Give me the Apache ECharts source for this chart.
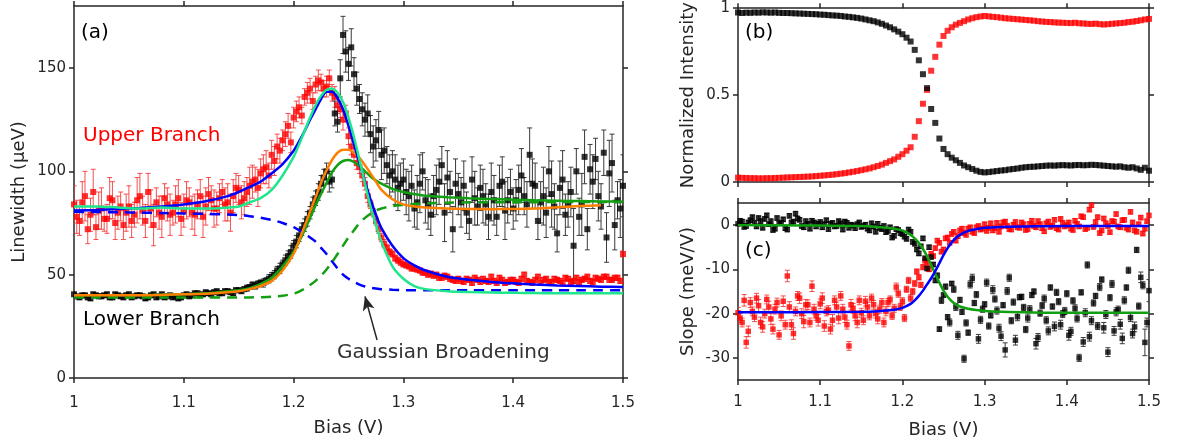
<!DOCTYPE html>
<html>
<head>
<meta charset="utf-8">
<script src="https://cdn.jsdelivr.net/npm/echarts@6/dist/echarts.min.js"></script>
<style>
html,body{margin:0;padding:0;background:#fff;}
#chart{width:1183px;height:444px;}
</style>
</head>
<body>
<div id="chart"></div>
<script>
// ---------- sampling grids (Bias, V) ----------
const bias = [
1.000,1.005,1.010,1.015,1.020,1.025,1.030,1.035,1.040,1.045,
1.050,1.055,1.060,1.065,1.070,1.075,1.080,1.085,1.090,1.095,
1.100,1.105,1.110,1.115,1.120,1.125,1.130,1.135,1.140,1.145,
1.150,1.155,1.160,1.165,1.170,1.175,1.180,1.185,1.190,1.195,
1.200,1.205,1.210,1.215,1.220,1.225,1.230,1.235,1.240,1.245,
1.250,1.255,1.260,1.265,1.270,1.275,1.280,1.285,1.290,1.295,
1.300,1.305,1.310,1.315,1.320,1.325,1.330,1.335,1.340,1.345,
1.350,1.355,1.360,1.365,1.370,1.375,1.380,1.385,1.390,1.395,
1.400,1.405,1.410,1.415,1.420,1.425,1.430,1.435,1.440,1.445,
1.450,1.455,1.460,1.465,1.470,1.475,1.480,1.485,1.490,1.495,
1.500];
const bias2 = [
1.0025,1.0075,1.0125,1.0175,1.0225,1.0275,1.0325,1.0375,1.0425,1.0475,
1.0525,1.0575,1.0625,1.0675,1.0725,1.0775,1.0825,1.0875,1.0925,1.0975,
1.1025,1.1075,1.1125,1.1175,1.1225,1.1275,1.1325,1.1375,1.1425,1.1475,
1.1525,1.1575,1.1625,1.1675,1.1725,1.1775,1.1825,1.1875,1.1925,1.1975,
1.2025,1.2075,1.2125,1.2175,1.2225,1.2275,1.2325,1.2375,1.2425,1.2475,
1.2525,1.2575,1.2625,1.2675,1.2725,1.2775,1.2825,1.2875,1.2925,1.2975,
1.3025,1.3075,1.3125,1.3175,1.3225,1.3275,1.3325,1.3375,1.3425,1.3475,
1.3525,1.3575,1.3625,1.3675,1.3725,1.3775,1.3825,1.3875,1.3925,1.3975,
1.4025,1.4075,1.4125,1.4175,1.4225,1.4275,1.4325,1.4375,1.4425,1.4475,
1.4525,1.4575,1.4625,1.4675,1.4725,1.4775,1.4825,1.4875,1.4925,1.4975];

// ---------- panel (a): linewidth (ueV) ----------
const upperWidth = [
84,76,88,79,73,82,77,86,80,74,
83,79,88,76,82,85,78,84,80,87,
81,85,79,88,83,86,82,90,85,88,
91,87,93,96,99,102,108,112,115,122,
126,131,136,140,142,143,141,138,132,125,
117,108,102,94,84,76,68,63,60,57,
55,54,53,52,51,50.5,50,48.5,49,47.5,
48,46.5,47.5,48.5,46.5,47,49,46,47.5,46.5,
47.5,46,50,46.5,47.5,46,48,46.5,47.5,46,
48,47,46.5,48,47,48.5,47.5,49,47.5,48.5,
60];
const upperWidthErr = [
9,7,12,8,6,10,7,9,8,7,
10,6,11,8,9,7,10,8,6,9,
8,7,10,8,9,7,8,6,9,8,
7,8,9,6,7,8,7,6,5,6,
5,5,4,5,4,4,5,4,4,5,
4,3,3,3,2,2,2,1.5,1.5,1.5,
1.2,1.2,1.2,1.2,1.2,1.2,1.2,1.2,1.2,1.2,
1.2,1.2,1.2,1.2,1.2,1.2,1.2,1.2,1.2,1.2,
1.2,1.2,1.2,1.2,1.2,1.2,1.2,1.2,1.2,1.2,
1.2,1.2,1.2,1.2,1.2,1.2,1.2,1.2,1.2,1.2,
1.5];
const upperWidth2 = [
78,85,72,90,81,77,87,75,83,80,
76,86,81,90,74,80,87,79,84,77,
86,80,84,78,89,82,87,84,80,92,
85,90,95,92,101,98,105,110,118,114,
129,127,138,134,144,140,145,136,130,128,
112,104,98,88,80,72,65,61,58,56,
54.5,53,52.5,51,50,49.5,48.5,49.5,48,47,
47,48,46,47.5,48,46.5,47,48.5,46,47.5,
46.5,48,47,46,49,47.5,46.5,48,47,48.5,
46.5,48.5,47.5,49,46.5,48,49,47.5,48.5,47];
const upperWidthErr2 = [
8,10,7,11,9,6,10,8,7,9,
8,11,7,9,10,8,7,10,9,8,
9,8,7,10,8,9,7,8,9,7,
8,7,8,9,7,6,7,6,6,5,
5,4,5,4,5,4,4,5,4,4,
4,3,3,3,2,2,2,1.5,1.5,1.5,
1.2,1.2,1.2,1.2,1.2,1.2,1.2,1.2,1.2,1.2,
1.2,1.2,1.2,1.2,1.2,1.2,1.2,1.2,1.2,1.2,
1.2,1.2,1.2,1.2,1.2,1.2,1.2,1.2,1.2,1.2,
1.2,1.2,1.2,1.2,1.2,1.2,1.2,1.2,1.2,1.2];
const lowerWidth = [
40.5,39,40,38.5,40,39.5,40.5,39,40,39,
40.5,39.5,40,38.5,40,39,40.5,39.5,39,38.5,
40,39.5,41,40,41.5,40.5,42,41,42,41,
42.5,43,44,44.5,46,47,49,52,55,59,
64,69,74,80,87,94,100,96,124,166,
152,147,135,125,118,115,108,103,100,92,
96,88,82,94,86,79,91,103,97,72,
89,93,76,87,92,84,90,78,95,86,
82,91,88,108,93,85,80,89,70,96,
84,64,78,107,101,106,83,68,104,86,
93];
const lowerWidthErr = [
1,1,1,1,1,1,1,1,1,1,
1,1,1,1,1,1,1,1,1,1,
1,1,1,1,1,1,1,1,1,1,
1,1,1,1.5,1.5,1.5,2,2,2,2.5,
2.5,3,3,3,3.5,4,4,4,5,9,
8,8,7,8,9,10,12,9,10,11,
10,12,9,14,11,10,12,9,13,11,
10,12,9,13,11,10,14,9,12,11,
10,12,9,13,11,10,12,16,9,14,
11,18,9,13,12,10,11,12,14,9,
15];
const lowerWidth2 = [
39.5,40,39,40.5,39.5,40,39,40.5,39.5,40,
39,40,39.5,39,40.5,39.5,39,40,39.5,39,
40.5,40,41,40.5,41,41.5,41,42,41.5,42.5,
42,43.5,45,45.5,46,48,50,53,57,61,
66,72,77,84,90,97,95,128,145,158,
160,140,130,128,112,120,110,98,96,94,
90,93,85,100,84,88,95,80,90,94,
85,80,96,83,88,78,86,93,81,90,
86,98,84,94,76,88,100,83,92,79,
90,100,84,72,95,88,109,99,74,82];
const lowerWidthErr2 = [
1,1,1,1,1,1,1,1,1,1,
1,1,1,1,1,1,1,1,1,1,
1,1,1,1,1,1,1,1,1,1,
1,1.5,1.5,1.5,2,2,2,2.5,2.5,3,
3,3,3.5,3.5,4,4,5,6,9,10,
9,8,8,9,10,9,11,10,12,10,
11,10,13,9,12,10,11,14,10,12,
12,10,11,9,13,11,12,10,14,11,
10,13,11,12,9,14,12,11,13,10,
12,11,15,10,13,12,11,16,12,14];

// fit curves of panel (a)
const fitBiasA = [1.00,1.02,1.04,1.06,1.08,1.10,1.12,1.14,
1.15,1.16,1.17,1.18,1.19,1.20,
1.205,1.21,1.215,1.22,1.225,1.23,1.235,1.24,1.245,1.25,1.255,1.26,1.265,1.27,1.275,1.28,
1.29,1.30,1.31,1.32,
1.34,1.36,1.38,1.40,1.42,1.44,1.46,1.48,1.50];
const upperFitBlue = [81,81.3,81.8,82.3,83,84,85.5,88,
90,92.5,95,99,103.5,110,
114.5,119.5,125,130,135,138.5,138.5,135.5,130,122,113,104,95,86.5,79,72.5,
64,58,54.5,52,
49,47.5,46.5,45.8,45.2,44.8,44.5,44.2,44];
const upperFitCyan = [83,83,82.5,82,82.5,82,82,82.5,
83,85,87,91,98,107,
113,119.5,126,132,136.5,139.5,140,138,133.5,126,116.5,105.5,94,83,74,66,
54,48,44.5,43,
42,41.6,41.4,41.2,41.1,41,41,41,41];
const lowerFitOrange = [40,40,40,40,40.2,40.5,40.8,41.5,
42,43,44.5,47,52,60,
66.5,73.5,80.5,87.5,94.5,100.5,105.5,109,110.5,110.5,109,106.5,103,99,95,91,
86.5,84,83,82.5,
82,81.8,81.7,81.8,82,82.6,83.2,83.6,null];
const lowerFitGreen = [40,40,40,40.1,40.3,40.5,41,42,
42.5,43.5,45.5,48.5,54,61,
66,71.5,77.5,83.5,89,94.5,99.5,103,105,105.5,104.5,102.5,100,97.5,95.5,94,
91.5,90,89,88.2,
87.5,87,86.6,86.3,86,85.8,85.6,85.4,85.3];
const upperLorentzDash = [80.4,80.3,80.2,80,79.8,79.6,79.4,79.1,
78.8,78.3,77.6,76.5,75,73,
71.5,70,68,66,63,60,56.5,53,50,48,46.5,45.2,44.3,43.7,43.3,43,
42.7,42.5,42.5,42.5,
42.5,42.5,42.5,42.5,42.5,42.5,42.5,42.5,42.5];
const gaussianDash = [39,39,39,39,39,39,39,39,
39,39,39.1,39.3,39.8,40.8,
41.8,43.2,45,47,49.5,52.5,56,60,64,68,71.5,75,77.5,79.5,81,82,
83.2,83.8,84.2,84.5,
84.8,85,85,85.1,85.1,85.2,85.2,85.2,85.2];

// ---------- panel (b): normalized intensity ----------
const upperIntensity = [
.025,.024,.023,.022,.022,.021,.021,.022,.022,.023,
.024,.025,.026,.027,.028,.029,.030,.031,.032,.034,
.036,.038,.040,.042,.045,.048,.051,.055,.059,.063,
.068,.073,.078,.085,.092,.100,.110,.120,.130,.145,
.160,.180,.200,.260,.350,.450,.530,.640,.720,.790,
.840,.870,.890,.905,.915,.925,.935,.942,.948,.952,
.955,.953,.950,.948,.945,.942,.940,.938,.936,.934,
.932,.930,.928,.925,.923,.921,.920,.918,.917,.916,
.915,.914,.916,.913,.912,.910,.909,.911,.908,.906,
.908,.910,.912,.914,.916,.920,.922,.926,.930,.935,
.938];
const lowerIntensity = [
.975,.972,.974,.973,.975,.974,.976,.975,.974,.975,
.973,.972,.972,.971,.970,.969,.968,.967,.966,.965,
.963,.962,.960,.958,.957,.955,.952,.950,.947,.944,
.940,.935,.930,.925,.918,.910,.900,.890,.878,.865,
.850,.830,.808,.760,.700,.620,.540,.420,.340,.250,
.190,.160,.140,.125,.110,.095,.085,.075,.065,.058,
.055,.057,.060,.063,.066,.068,.072,.075,.078,.082,
.085,.087,.088,.090,.092,.094,.095,.094,.096,.097,
.096,.095,.097,.098,.096,.097,.099,.098,.096,.094,
.092,.090,.088,.090,.085,.082,.085,.078,.070,.082,
.065];

// ---------- panel (c): slope (meV/V) ----------
const upperSlope = [
-19.8,-22.0,-26.5,-17.5,-20.8,-18.2,-23.0,-16.8,-21.2,-19.0,
-24.8,-17.2,-11.5,-22.5,-19.5,-16.5,-21.8,-18.0,-13.8,-20.5,
-17.8,-22.8,-19.2,-21.5,-18.5,-16.0,-20.8,-27.3,-18.8,-22.0,
-19.8,-17.2,-20.5,-18.0,-21.2,-17.5,-19.5,-16.8,-18.8,-15.5,
-17.2,-14.5,-16.5,-13.2,-11.8,-9.5,-8.8,-6.5,-5.2,-4.0,
-5.5,-2.8,-2.0,-3.5,-1.2,-1.8,-0.8,-1.5,-0.5,-1.0,
0.2,-0.6,-1.2,0.5,-0.3,0.8,-0.9,0.1,-0.5,0.6,
-1.1,0.3,-0.2,0.9,-0.7,0.4,-0.4,1.2,-1.0,0.5,
0.0,-0.8,1.0,-0.3,1.8,-0.6,4.5,0.7,-1.8,1.5,
-0.2,0.9,2.5,-0.5,1.2,-1.0,0.6,-1.5,1.7,-0.8,
2.2];
const upperSlopeErr = [
1.2,1.0,1.3,1.1,1.0,1.4,1.2,1.0,1.3,1.1,
1.0,1.2,1.3,1.1,1.0,1.2,1.4,1.1,1.2,1.0,
1.1,1.2,1.0,1.3,1.1,1.0,1.2,1.0,1.1,1.2,
1.0,1.1,0.9,1.0,1.1,0.9,1.0,0.8,0.9,0.8,
0.8,0.7,0.8,0.7,0.6,0.6,0.6,0.5,0.5,0.5,
0.5,0.5,0.5,0.5,0.5,0.5,0.5,0.5,0.5,0.5,
0.5,0.5,0.5,0.5,0.5,0.5,0.5,0.5,0.5,0.5,
0.5,0.5,0.5,0.5,0.5,0.5,0.5,0.5,0.5,0.5,
0.5,0.5,0.5,0.5,0.5,0.5,0.5,0.5,0.5,0.5,
0.5,0.5,0.5,0.5,0.5,0.5,0.5,0.5,0.5,0.5,
0.5];
const upperSlope2 = [
-21.0,-17.0,-24.0,-19.5,-16.5,-22.0,-20.0,-18.5,-23.5,-17.5,
-20.5,-22.5,-18.5,-24.5,-16.0,-20.0,-18.0,-22.0,-19.0,-21.5,
-16.5,-19.5,-23.5,-17.0,-21.0,-19.0,-22.5,-18.0,-20.5,-17.0,
-21.5,-18.5,-16.5,-20.0,-19.0,-22.0,-17.5,-20.5,-14.0,-18.5,
-21.0,-12.5,-15.0,-10.5,-13.5,-8.0,-10.0,-7.0,-3.5,-6.0,
-3.0,-4.0,-1.5,-2.5,-0.8,-2.2,-0.5,-1.8,-0.2,-0.8,
-1.3,0.4,-0.7,-1.5,0.6,-0.2,-1.0,0.7,-0.6,0.2,
-0.9,1.0,-0.5,0.2,-1.4,0.8,-0.1,-0.7,1.4,-0.3,
0.6,-1.1,0.3,2.0,-0.9,3.5,-0.4,1.8,-1.2,0.4,
-1.6,0.8,-0.3,1.1,-0.6,3.0,-1.2,0.2,-1.9,0.9];
const upperSlopeErr2 = [
1.0,1.3,1.2,1.0,1.1,1.2,1.0,1.3,1.1,1.0,
1.1,1.0,1.2,1.3,1.0,1.1,1.2,1.0,1.1,1.3,
1.2,1.0,1.1,1.0,1.3,1.1,1.0,1.2,1.1,1.0,
1.0,1.1,0.9,1.0,0.9,1.0,0.9,0.8,0.9,0.8,
0.8,0.7,0.7,0.6,0.6,0.6,0.5,0.5,0.5,0.5,
0.5,0.5,0.5,0.5,0.5,0.5,0.5,0.5,0.5,0.5,
0.5,0.5,0.5,0.5,0.5,0.5,0.5,0.5,0.5,0.5,
0.5,0.5,0.5,0.5,0.5,0.5,0.5,0.5,0.5,0.5,
0.5,0.5,0.5,0.5,0.5,0.5,0.5,0.5,0.5,0.5,
0.5,0.5,0.5,0.5,0.5,0.5,0.5,0.5,0.5,0.5];
const lowerSlope = [
0.3,0.8,-0.2,1.1,0.5,1.6,-0.6,2.2,0.9,-0.8,
0.4,1.3,-1.0,0.6,2.6,1.2,-0.5,0.3,1.0,-0.3,
0.7,0.2,-0.9,0.5,-0.2,0.4,0.8,-0.6,-0.1,0.2,
-0.4,0.1,-1.2,-0.3,0.3,-0.9,-1.6,-0.5,-2.4,-1.1,
-2.0,-3.1,-1.5,-4.2,-6.4,-3.0,-9.8,-7.2,-12.5,-23.5,
-15.8,-20.8,-13.2,-18.5,-16.9,-30.2,-24.3,-12.0,-15.7,-21.4,
-17.9,-22.8,-14.6,-19.3,-25.1,-28.2,-11.9,-17.4,-20.7,-16.2,
-23.6,-19.0,-15.0,-25.4,-18.2,-21.5,-14.1,-22.9,-17.3,-20.1,
-15.5,-24.0,-18.8,-30.0,-26.4,-9.0,-21.6,-16.0,-14.0,-23.2,
-28.7,-13.3,-19.6,-22.4,-17.0,-10.2,-24.5,-5.6,-11.8,-26.5,
-14.8];
const lowerSlopeErr = [
0.5,0.5,0.5,0.5,0.5,0.5,0.5,0.5,0.5,0.5,
0.5,0.5,0.5,0.5,0.5,0.5,0.5,0.5,0.5,0.5,
0.5,0.5,0.5,0.5,0.5,0.5,0.5,0.5,0.5,0.5,
0.5,0.5,0.5,0.5,0.5,0.5,0.5,0.5,0.5,0.5,
0.5,0.5,0.5,0.5,0.5,0.5,0.5,0.5,0.5,0.5,
0.5,0.6,0.5,0.8,0.6,0.8,0.6,0.9,0.7,0.8,
0.6,0.7,0.9,0.8,1.0,1.6,0.8,0.7,0.9,0.6,
0.7,0.8,0.6,0.9,0.7,0.8,0.6,1.0,0.7,0.8,
0.7,0.9,0.8,0.8,1.0,0.7,0.9,0.6,0.8,1.2,
1.0,0.8,0.9,1.1,0.8,0.7,1.0,0.6,1.2,3.0,
2.5];
const lowerSlope2 = [
1.0,-0.4,0.6,1.8,-0.3,0.9,1.4,0.2,-1.1,1.6,
0.5,-0.7,2.1,0.8,1.5,-0.2,0.9,-0.8,0.6,0.3,
-0.5,1.1,0.3,-0.3,0.9,-1.0,0.5,0.1,-0.7,0.6,
-0.2,-0.8,0.4,-1.5,-0.6,-0.2,-1.3,-2.8,-0.9,-1.8,
-2.6,-1.0,-3.8,-5.5,-4.8,-7.5,-5.0,-8.9,-11.4,-17.0,
-13.9,-22.0,-14.5,-24.9,-19.6,-22.1,-13.4,-17.6,-25.7,-19.0,
-13.0,-20.4,-16.7,-23.3,-18.1,-14.9,-21.6,-26.0,-16.3,-18.6,
-21.0,-15.8,-26.8,-19.9,-16.6,-23.9,-18.4,-15.2,-22.5,-19.4,
-24.9,-17.1,-21.1,-15.2,-19.8,-25.2,-17.6,-22.8,-12.3,-20.2,
-16.4,-23.9,-19.1,-25.6,-14.1,-20.9,-23.0,-18.3,-13.6,-22.0];
const lowerSlopeErr2 = [
0.5,0.5,0.5,0.5,0.5,0.5,0.5,0.5,0.5,0.5,
0.5,0.5,0.5,0.5,0.5,0.5,0.5,0.5,0.5,0.5,
0.5,0.5,0.5,0.5,0.5,0.5,0.5,0.5,0.5,0.5,
0.5,0.5,0.5,0.5,0.5,0.5,0.5,0.5,0.5,0.5,
0.5,0.5,0.5,0.5,0.5,0.5,0.5,0.5,0.6,0.7,
0.6,0.8,0.7,0.9,0.6,0.7,0.8,0.6,1.0,0.7,
0.8,0.6,0.7,0.9,0.6,0.8,0.7,1.1,0.6,0.7,
0.9,0.6,1.2,0.7,0.8,0.9,0.6,0.7,1.0,0.8,
1.1,0.7,0.8,0.6,0.9,1.0,0.7,0.8,0.6,0.9,
0.7,1.0,0.8,1.2,0.6,0.9,1.1,0.7,0.8,1.0];
const fitBiasC = [1.00,1.05,1.10,1.15,1.17,1.19,1.20,1.21,1.215,1.22,1.225,1.23,1.235,1.24,
1.245,1.25,1.255,1.26,1.265,1.27,1.28,1.29,1.30,1.32,1.35,1.40,1.45,1.50];
const lowerSlopeFit = [0,-0.05,-0.1,-0.2,-0.4,-0.8,-1.2,-2.2,-3.0,-4.0,-5.4,-7.0,-9.0,-11.0,
-13.0,-14.8,-16.2,-17.2,-17.9,-18.4,-18.9,-19.2,-19.4,-19.6,-19.7,-19.8,-19.8,-19.8];
const upperSlopeFit = [-19.7,-19.7,-19.65,-19.6,-19.45,-19.1,-18.7,-17.8,-17.0,-16.0,-14.8,-13.4,-12.0,-10.4,
-8.6,-6.8,-5.2,-3.9,-2.9,-2.2,-1.3,-0.9,-0.6,-0.4,-0.3,-0.2,-0.2,-0.2];

// tick labels
const biasTicks = [1, 1.1, 1.2, 1.3, 1.4, 1.5];
const widthTicks = [0, 50, 100, 150];
const intensityTicks = [0, 0.5, 1];
const slopeTicks = [-30, -20, -10, 0];

// annotation arrow (data coordinates of panel a)
const arrowFrom = [1.276, 18.4];
const arrowTo = [1.265, 39.5];

// ---------- build ----------
const AX = '#262626';
const FONT = 'DejaVu Sans';
const zip = (xs, ys) => xs.map((x, i) => [x, ys[i]]).filter(p => p[1] !== null);
const zipErr = (xs, ys, es) => xs.map((x, i) => [x, ys[i] - es[i], ys[i] + es[i]]);

function xAx(gi, pos, showLabel, name, gap, margin) {
  return {
    type: 'value', gridIndex: gi, position: pos, min: 1, max: 1.5, interval: 0.1,
    axisLine: {show: true, onZero: false, lineStyle: {color: AX, width: 1.5}},
    axisTick: {show: true, length: 5, lineStyle: {color: AX, width: 1.5}, customValues: biasTicks},
    axisLabel: {show: showLabel, margin: margin || 14, color: AX, fontFamily: FONT, fontSize: 15,
      customValues: biasTicks, formatter: v => String(+v.toFixed(1))},
    splitLine: {show: false},
    name: name || '', nameLocation: 'middle', nameGap: gap || 0,
    nameTextStyle: {color: AX, fontFamily: FONT, fontSize: 18}
  };
}
function yAx(gi, pos, min, max, ticks, showLabel, name, gap) {
  return {
    type: 'value', gridIndex: gi, position: pos, min: min, max: max,
    axisLine: {show: true, onZero: false, lineStyle: {color: AX, width: 1.5}},
    axisTick: {show: true, length: 5, lineStyle: {color: AX, width: 1.5}, customValues: ticks},
    axisLabel: {show: showLabel, margin: 8, color: AX, fontFamily: FONT, fontSize: 15, customValues: ticks,
      formatter: v => String(+v.toFixed(1))},
    splitLine: {show: false},
    name: name || '', nameLocation: 'middle', nameGap: gap || 0,
    nameTextStyle: {color: AX, fontFamily: FONT, fontSize: 18}
  };
}
function errSeries(xi, yi, data, color, cap) {
  return {
    type: 'custom', xAxisIndex: xi, yAxisIndex: yi, data: data, clip: true, silent: true,
    encode: {x: 0, y: [1, 2]},
    renderItem: function (params, api) {
      const x = api.value(0);
      const lo = api.coord([x, api.value(1)]);
      const hi = api.coord([x, api.value(2)]);
      const st = {stroke: color, lineWidth: 1};
      return {type: 'group', children: [
        {type: 'line', shape: {x1: lo[0], y1: lo[1], x2: hi[0], y2: hi[1]}, style: st},
        {type: 'line', shape: {x1: lo[0] - cap, y1: lo[1], x2: lo[0] + cap, y2: lo[1]}, style: st},
        {type: 'line', shape: {x1: hi[0] - cap, y1: hi[1], x2: hi[0] + cap, y2: hi[1]}, style: st}
      ]};
    }
  };
}
function scat(xi, yi, xs, ys, color, size) {
  return {type: 'scatter', xAxisIndex: xi, yAxisIndex: yi, data: zip(xs, ys), symbol: 'rect',
    symbolSize: size || 6, itemStyle: {color: color}, silent: true};
}
function fitLine(xi, yi, xs, ys, color, dash, z) {
  return {type: 'line', xAxisIndex: xi, yAxisIndex: yi, data: zip(xs, ys), showSymbol: false, smooth: 0.3,
    lineStyle: {color: color, width: 2.5, type: dash ? [10, 7] : 'solid'}, z: z || 5, silent: true};
}

const RED = '#ff0000', RED_ERR = 'rgba(245,50,50,0.85)', BLK = '#000000', BLK_ERR = '#3a3a3a';
const BLUE = '#0000ff', CYAN = '#1ee68c', ORANGE = '#ff8000', GREEN = '#12a012';

const greenDash = fitLine(0, 0, fitBiasA, gaussianDash, GREEN, true, 5);
greenDash.markLine = {
  silent: true, symbol: ['none', 'arrow'], symbolSize: [9, 14],
  lineStyle: {color: AX, width: 1.5, type: 'solid'}, label: {show: false},
  data: [[{coord: arrowFrom}, {coord: arrowTo}]]
};

const option = {
  animation: false,
  backgroundColor: '#ffffff',
  grid: [
    {left: 74, top: 6, width: 549, height: 372},
    {left: 738, top: 4, width: 411, height: 178},
    {left: 738, top: 203, width: 411, height: 177}
  ],
  xAxis: [
    xAx(0, 'bottom', true, 'Bias (V)', 41, 18), xAx(0, 'top', false),
    xAx(1, 'bottom', false), xAx(1, 'top', false),
    xAx(2, 'bottom', true, 'Bias (V)', 41, 15), xAx(2, 'top', false)
  ],
  yAxis: [
    yAx(0, 'left', 0, 180, widthTicks, true, 'Linewidth (μeV)', 46), yAx(0, 'right', 0, 180, widthTicks, false),
    yAx(1, 'left', 0, 1, intensityTicks, true, 'Normalized Intensity', 41), yAx(1, 'right', 0, 1, intensityTicks, false),
    yAx(2, 'left', -35, 5, slopeTicks, true, 'Slope (meV/V)', 41), yAx(2, 'right', -35, 5, slopeTicks, false)
  ],
  series: [
    // (a)
    errSeries(0, 0, zipErr(bias, upperWidth, upperWidthErr), RED_ERR, 2.5),
    errSeries(0, 0, zipErr(bias2, upperWidth2, upperWidthErr2), RED_ERR, 2.5),
    scat(0, 0, bias, upperWidth, RED),
    scat(0, 0, bias2, upperWidth2, RED),
    errSeries(0, 0, zipErr(bias, lowerWidth, lowerWidthErr), BLK_ERR, 2.5),
    errSeries(0, 0, zipErr(bias2, lowerWidth2, lowerWidthErr2), BLK_ERR, 2.5),
    scat(0, 0, bias, lowerWidth, BLK),
    scat(0, 0, bias2, lowerWidth2, BLK),
    fitLine(0, 0, fitBiasA, upperLorentzDash, BLUE, true, 5),
    greenDash,
    fitLine(0, 0, fitBiasA, lowerFitGreen, GREEN, false, 6),
    fitLine(0, 0, fitBiasA, lowerFitOrange, ORANGE, false, 6),
    fitLine(0, 0, fitBiasA, upperFitBlue, BLUE, false, 6),
    fitLine(0, 0, fitBiasA, upperFitCyan, CYAN, false, 6),
    // (b)
    scat(2, 2, bias, upperIntensity, RED, 6),
    scat(2, 2, bias, lowerIntensity, BLK, 6),
    // (c)
    errSeries(4, 4, zipErr(bias, upperSlope, upperSlopeErr), RED_ERR, 2.5),
    errSeries(4, 4, zipErr(bias2, upperSlope2, upperSlopeErr2), RED_ERR, 2.5),
    scat(4, 4, bias, upperSlope, RED, 5.5),
    scat(4, 4, bias2, upperSlope2, RED, 5.5),
    errSeries(4, 4, zipErr(bias, lowerSlope, lowerSlopeErr), BLK_ERR, 2.5),
    errSeries(4, 4, zipErr(bias2, lowerSlope2, lowerSlopeErr2), BLK_ERR, 2.5),
    scat(4, 4, bias, lowerSlope, BLK, 5.5),
    scat(4, 4, bias2, lowerSlope2, BLK, 5.5),
    fitLine(4, 4, fitBiasC, lowerSlopeFit, GREEN, false, 6),
    fitLine(4, 4, fitBiasC, upperSlopeFit, BLUE, false, 6)
  ],
  graphic: [
    {type: 'text', left: 81, top: 23, style: {text: '(a)', fill: '#000', font: '20px "DejaVu Sans"'}},
    {type: 'text', left: 745, top: 23, style: {text: '(b)', fill: '#000', font: '20px "DejaVu Sans"'}},
    {type: 'text', left: 745, top: 241, style: {text: '(c)', fill: '#000', font: '20px "DejaVu Sans"'}},
    {type: 'text', left: 83, top: 126, style: {text: 'Upper Branch', fill: '#ff0000', font: '20px "DejaVu Sans"'}},
    {type: 'text', left: 83, top: 310, style: {text: 'Lower Branch', fill: '#000', font: '20px "DejaVu Sans"'}},
    {type: 'text', left: 337, top: 343, style: {text: 'Gaussian Broadening', fill: '#333', font: '20px "DejaVu Sans"'}}
  ]
};
const chart = echarts.init(document.getElementById('chart'), null, {renderer: 'canvas'});
chart.setOption(option);
</script>
</body>
</html>
